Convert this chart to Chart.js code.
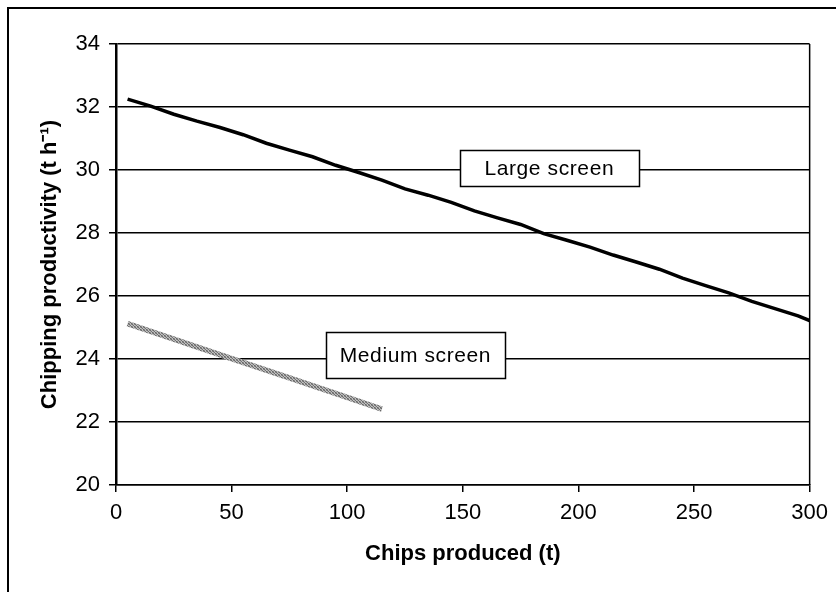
<!DOCTYPE html>
<html>
<head>
<meta charset="utf-8">
<script src="https://cdn.jsdelivr.net/npm/chart.js@4.4.1/dist/chart.umd.min.js"></script>
<style>
  html, body { margin: 0; padding: 0; background: #fff; }
  #wrap { position: relative; width: 836px; height: 592px; }
</style>
</head>
<body>
<div id="wrap"><canvas id="c" width="836" height="592"></canvas></div>
<script>
// ---- data ----
const largeX = [5, 15, 25, 35, 45, 55, 65, 75, 85, 95, 105, 115, 125, 135, 145, 155, 165, 175, 185, 195, 205, 215, 225, 235, 245, 255, 265, 275, 285, 295, 300];
const largeY = [32.25, 32.03, 31.77, 31.55, 31.35, 31.12, 30.85, 30.63, 30.42, 30.15, 29.92, 29.68, 29.40, 29.20, 28.97, 28.70, 28.48, 28.27, 27.98, 27.77, 27.55, 27.30, 27.08, 26.85, 26.57, 26.33, 26.10, 25.83, 25.60, 25.37, 25.22];
const mediumX = [5, 25, 50, 75, 100, 115];
const mediumY = [25.12, 24.63, 24.01, 23.40, 22.78, 22.41];
const seriesNames = ['Large screen', 'Medium screen'];
const xTicks = [0, 50, 100, 150, 200, 250, 300];
const yTicks = [20, 22, 24, 26, 28, 30, 32, 34];
const xTitle = 'Chips produced (t)';
const yTitle = 'Chipping productivity (t h\u207B\u00B9)';
// label anchor points (data coordinates)
const labelAnchors = [
  { text: seriesNames[0], x: 187.4, y: 30.06, w: 179, h: 36 },
  { text: seriesNames[1], x: 129.5, y: 24.13, w: 179, h: 46 }
];

function toPoints(xs, ys) { return xs.map((x, i) => ({ x: x, y: ys[i] })); }

// textured grey pattern for the medium-screen line
function makePattern() {
  const p = document.createElement('canvas');
  p.width = 3; p.height = 3;
  const g = p.getContext('2d');
  const cols = ['#6a6a6a', '#b8b8b8', '#8c8c8c', '#b0b0b0', '#707070', '#c4c4c4', '#909090', '#c0c0c0', '#666666'];
  for (let i = 0; i < 9; i++) { g.fillStyle = cols[i]; g.fillRect(i % 3, Math.floor(i / 3), 1, 1); }
  return g.createPattern(p, 'repeat');
}

const FONT = "'Liberation Sans', Arial, sans-serif";

const framePlugin = {
  id: 'frame',
  beforeDraw(chart) {
    const ctx = chart.ctx;
    ctx.save();
    ctx.fillStyle = '#fff';
    ctx.fillRect(0, 0, chart.width, chart.height);
    ctx.fillStyle = '#000';
    ctx.fillRect(7, 7, 2, chart.height - 7);
    ctx.fillRect(7, 7, chart.width - 7, 2);
    ctx.restore();
  },
  afterDraw(chart) {
    const ctx = chart.ctx;
    const a = chart.chartArea;
    ctx.save();
    ctx.strokeStyle = '#000';
    ctx.lineWidth = 1.5;
    ctx.beginPath();
    ctx.moveTo(a.right, a.top);
    ctx.lineTo(a.right, a.bottom);
    ctx.stroke();
    // series labels
    const xs = chart.scales.x, ys = chart.scales.y;
    ctx.font = '21px ' + FONT;
    if ('letterSpacing' in ctx) ctx.letterSpacing = '0.6px';
    ctx.textAlign = 'center';
    ctx.textBaseline = 'middle';
    labelAnchors.forEach(l => {
      const cx = xs.getPixelForValue(l.x), cy = ys.getPixelForValue(l.y);
      const x0 = Math.round(cx - l.w / 2) + 0.5, y0 = Math.round(cy - l.h / 2) + 0.5;
      ctx.fillStyle = '#fff';
      ctx.fillRect(x0, y0, l.w, l.h);
      ctx.lineWidth = 1.5;
      ctx.strokeStyle = '#000';
      ctx.strokeRect(x0, y0, l.w, l.h);
      ctx.fillStyle = '#000';
      ctx.fillText(l.text, cx, cy + 1);
    });
    ctx.restore();
  }
};

const ctx = document.getElementById('c').getContext('2d');
new Chart(ctx, {
  type: 'scatter',
  data: {
    datasets: [
      {
        label: seriesNames[0],
        data: toPoints(largeX, largeY),
        showLine: true,
        borderColor: '#000',
        borderWidth: 3.5,
        pointRadius: 0,
        tension: 0,
        order: 1
      },
      {
        label: seriesNames[1],
        data: toPoints(mediumX, mediumY),
        showLine: true,
        borderColor: makePattern(),
        borderWidth: 5.5,
        pointRadius: 0,
        tension: 0,
        order: 2
      }
    ]
  },
  options: {
    responsive: false,
    animation: false,
    devicePixelRatio: 1,
    layout: { padding: { left: 0, top: 44, right: 26, bottom: 0 } },
    plugins: { legend: { display: false }, tooltip: { enabled: false } },
    scales: {
      x: {
        type: 'linear',
        min: 0, max: 300,
        afterBuildTicks(s) { s.ticks = xTicks.map(v => ({ value: v })); },
        afterFit(s) { s.height = 107; },
        grid: { drawOnChartArea: false, drawTicks: true, tickLength: 7, color: '#000', lineWidth: 1.5 },
        border: { display: true, color: '#000', width: 1.5 },
        ticks: { color: '#000', font: { family: FONT, size: 22 }, padding: 8, maxRotation: 0 },
        title: { display: true, text: xTitle, color: '#000', font: { family: FONT, size: 22, weight: 'bold' }, padding: { top: 0, bottom: 25 } }
      },
      y: {
        min: 20, max: 34,
        afterBuildTicks(s) { s.ticks = yTicks.map(v => ({ value: v })); },
        afterFit(s) { s.width = 116; },
        grid: { drawOnChartArea: true, drawTicks: true, tickLength: 7, color: '#000', lineWidth: 1.5 },
        border: { display: true, color: '#000', width: 2.5 },
        ticks: { color: '#000', font: { family: FONT, size: 22 }, padding: 9 },
        title: { display: true, text: yTitle, color: '#000', font: { family: FONT, size: 22, weight: 'bold' }, padding: { top: 37, bottom: 0 } }
      }
    }
  },
  plugins: [framePlugin]
});
</script>
</body>
</html>
